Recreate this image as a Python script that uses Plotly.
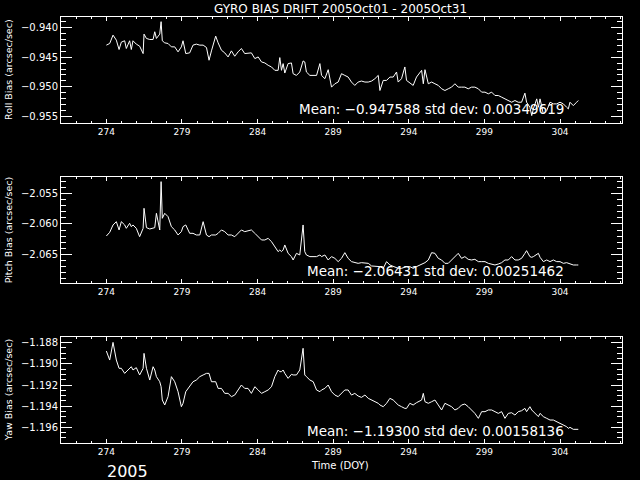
import plotly.graph_objects as go

# ---------------- data ----------------
doy = [
    274.00, 274.22, 274.44, 274.66, 274.84, 274.99, 275.21, 275.32, 275.54, 275.65,
    275.76, 275.98, 276.20, 276.43, 276.49, 276.65, 276.87, 277.09, 277.20, 277.31,
    277.53, 277.62, 277.70, 277.86, 278.08, 278.30, 278.52, 278.74, 278.96, 279.07,
    279.25, 279.51, 279.73, 279.95, 280.18, 280.40, 280.62, 280.79, 280.95, 281.23,
    281.39, 281.61, 281.83, 282.05, 282.27, 282.49, 282.71, 282.93, 283.15, 283.37,
    283.59, 283.82, 284.04, 284.26, 284.48, 284.70, 284.92, 285.14, 285.36, 285.47,
    285.58, 285.69, 285.80, 286.02, 286.24, 286.35, 286.57, 286.79, 287.01, 287.12,
    287.23, 287.46, 287.68, 287.90, 288.12, 288.23, 288.45, 288.67, 288.89, 289.11,
    289.33, 289.55, 289.77, 289.99, 290.21, 290.43, 290.65, 290.87, 291.10, 291.32,
    291.54, 291.76, 291.98, 292.09, 292.31, 292.53, 292.75, 292.97, 293.19, 293.30,
    293.52, 293.74, 293.85, 294.07, 294.29, 294.51, 294.85, 294.96, 295.07, 295.29,
    295.51, 295.73, 295.95, 296.17, 296.39, 296.61, 296.83, 297.05, 297.27, 297.49,
    297.71, 297.93, 298.15, 298.37, 298.60, 298.82, 299.04, 299.26, 299.48, 299.70,
    299.92, 300.14, 300.36, 300.58, 300.80, 301.02, 301.24, 301.46, 301.68, 301.79,
    302.01, 302.13, 302.24, 302.46, 302.57, 302.68, 302.90, 303.12, 303.34, 303.56,
    303.78, 304.00, 304.22, 304.44, 304.55, 304.66, 304.88, 305.10, 305.21,
]

roll_bias = [
    -0.94295, -0.94267, -0.94125, -0.94210, -0.94369, -0.94244, -0.94221, -0.94352, -0.94221, -0.94369,
    -0.94221, -0.94278, -0.94312, -0.94438, -0.94108, -0.94182, -0.94199, -0.94199, -0.94068, -0.94182,
    -0.94108, -0.93897, -0.94221, -0.94256, -0.94267, -0.94324, -0.94324, -0.94409, -0.94324, -0.94221,
    -0.94438, -0.94426, -0.94295, -0.94278, -0.94295, -0.94295, -0.94335, -0.94551, -0.94392, -0.94142,
    -0.94256, -0.94381, -0.94426, -0.94495, -0.94392, -0.94483, -0.94409, -0.94352, -0.94438, -0.94438,
    -0.94426, -0.94523, -0.94495, -0.94580, -0.94597, -0.94637, -0.94665, -0.94722, -0.94722, -0.94506,
    -0.94722, -0.94608, -0.94768, -0.94608, -0.94597, -0.94779, -0.94808, -0.94751, -0.94563, -0.94580,
    -0.94751, -0.94808, -0.94808, -0.94808, -0.94608, -0.94808, -0.94864, -0.94711, -0.95007, -0.94950,
    -0.94921, -0.94779, -0.94808, -0.94836, -0.94921, -0.94978, -0.94921, -0.94904, -0.94921, -0.94921,
    -0.94904, -0.94864, -0.94808, -0.95064, -0.94893, -0.94893, -0.94836, -0.94836, -0.94751, -0.94921,
    -0.94864, -0.94665, -0.94893, -0.94938, -0.94978, -0.94836, -0.94722, -0.94950, -0.94711, -0.94950,
    -0.94921, -0.94950, -0.94978, -0.95035, -0.95064, -0.95035, -0.95007, -0.94950, -0.95007, -0.95007,
    -0.95007, -0.95035, -0.95007, -0.95007, -0.95035, -0.95092, -0.95092, -0.95120, -0.95092, -0.95149,
    -0.95149, -0.95177, -0.95206, -0.95234, -0.95263, -0.95234, -0.95263, -0.95263, -0.95109, -0.95263,
    -0.95348, -0.95490, -0.95376, -0.95206, -0.95348, -0.95206, -0.95462, -0.95405, -0.95263, -0.95291,
    -0.95291, -0.95263, -0.95291, -0.95348, -0.95376, -0.95263, -0.95320, -0.95263, -0.95234,
]

pitch_bias = [
    -2.06197, -2.06137, -2.06016, -2.05962, -2.06098, -2.05962, -2.06016, -2.06071, -2.05989, -2.06044,
    -2.06016, -2.06071, -2.06208, -2.06071, -2.05743, -2.06060, -2.06082, -2.06071, -2.06060, -2.05825,
    -2.06098, -2.05306, -2.05907, -2.05825, -2.05880, -2.06044, -2.06098, -2.06180, -2.06126, -2.06044,
    -2.06016, -2.06153, -2.06153, -2.06180, -2.06180, -2.05962, -2.06180, -2.06208, -2.06180, -2.06180,
    -2.06153, -2.06098, -2.06126, -2.06180, -2.06180, -2.06208, -2.06153, -2.06098, -2.06126, -2.06115,
    -2.06098, -2.06153, -2.06208, -2.06262, -2.06262, -2.06235, -2.06290, -2.06372, -2.06453, -2.06426,
    -2.06453, -2.06426, -2.06344, -2.06481, -2.06535, -2.06590, -2.06481, -2.06508, -2.06016, -2.06453,
    -2.06508, -2.06535, -2.06535, -2.06535, -2.06508, -2.06535, -2.06508, -2.06590, -2.06535, -2.06563,
    -2.06617, -2.06563, -2.06470, -2.06563, -2.06617, -2.06634, -2.06645, -2.06634, -2.06645, -2.06645,
    -2.06688, -2.06688, -2.06688, -2.06699, -2.06727, -2.06617, -2.06672, -2.06699, -2.06727, -2.06727,
    -2.06727, -2.06710, -2.06699, -2.06699, -2.06727, -2.06699, -2.06656, -2.06645, -2.06634, -2.06590,
    -2.06470, -2.06481, -2.06563, -2.06590, -2.06645, -2.06645, -2.06590, -2.06535, -2.06481, -2.06563,
    -2.06535, -2.06579, -2.06590, -2.06579, -2.06617, -2.06617, -2.06617, -2.06645, -2.06656, -2.06672,
    -2.06656, -2.06634, -2.06590, -2.06590, -2.06535, -2.06590, -2.06590, -2.06563, -2.06481, -2.06437,
    -2.06535, -2.06546, -2.06535, -2.06508, -2.06481, -2.06546, -2.06617, -2.06590, -2.06617, -2.06590,
    -2.06617, -2.06617, -2.06645, -2.06634, -2.06645, -2.06656, -2.06672, -2.06672, -2.06672,
]

yaw_bias = [
    -1.18879, -1.18964, -1.18797, -1.18964, -1.19042, -1.19042, -1.19090, -1.19074, -1.19042, -1.19027,
    -1.19058, -1.19036, -1.19105, -1.19042, -1.18901, -1.19042, -1.19153, -1.19027, -1.19058, -1.19121,
    -1.19169, -1.19216, -1.19342, -1.19389, -1.19310, -1.19121, -1.19169, -1.19263, -1.19405, -1.19373,
    -1.19263, -1.19216, -1.19169, -1.19153, -1.19121, -1.19105, -1.19090, -1.19090, -1.19169, -1.19169,
    -1.19232, -1.19232, -1.19279, -1.19279, -1.19310, -1.19295, -1.19247, -1.19200, -1.19232, -1.19232,
    -1.19279, -1.19216, -1.19247, -1.19279, -1.19263, -1.19247, -1.19216, -1.19121, -1.19058, -1.19074,
    -1.19074, -1.19058, -1.19090, -1.19137, -1.19099, -1.19105, -1.19105, -1.19058, -1.18853, -1.19105,
    -1.19121, -1.19153, -1.19169, -1.19247, -1.19263, -1.19247, -1.19232, -1.19200, -1.19263, -1.19295,
    -1.19310, -1.19279, -1.19247, -1.19247, -1.19295, -1.19279, -1.19304, -1.19317, -1.19295, -1.19326,
    -1.19342, -1.19358, -1.19373, -1.19389, -1.19405, -1.19373, -1.19326, -1.19342, -1.19373, -1.19389,
    -1.19405, -1.19421, -1.19421, -1.19373, -1.19389, -1.19367, -1.19342, -1.19279, -1.19358, -1.19373,
    -1.19358, -1.19342, -1.19389, -1.19436, -1.19373, -1.19389, -1.19405, -1.19436, -1.19421, -1.19389,
    -1.19380, -1.19405, -1.19436, -1.19468, -1.19515, -1.19452, -1.19452, -1.19436, -1.19436, -1.19452,
    -1.19468, -1.19452, -1.19515, -1.19468, -1.19462, -1.19484, -1.19452, -1.19443, -1.19421, -1.19452,
    -1.19405, -1.19436, -1.19452, -1.19484, -1.19499, -1.19468, -1.19499, -1.19515, -1.19531, -1.19531,
    -1.19547, -1.19563, -1.19578, -1.19594, -1.19610, -1.19600, -1.19619, -1.19619, -1.19619,
]

x_tick_values = [274, 279, 284, 289, 294, 299, 304]
title_text = "GYRO BIAS DRIFT 2005Oct01 - 2005Oct31"
panel_labels = ["Roll Bias (arcsec/sec)", "Pitch Bias (arcsec/sec)", "Yaw Bias (arcsec/sec)"]
stats_labels = [
    "Mean: \u22120.947588 std dev: 0.00349619",
    "Mean: \u22122.06431 std dev: 0.00251462",
    "Mean: \u22121.19300 std dev: 0.00158136",
]
x_title = "Time (DOY)"
year_label = "2005"

# ---------------- layout helpers (pixel -> paper) ----------------
W, H = 640, 480
def px(x):
    return x / W
def py(y):
    return 1 - y / H

FONT = "DejaVu Sans"
x_dom = [px(61), px(622)]
panel_px = [(17.3, 122.7), (177.3, 283.3), (337.3, 443.3)]
y_ranges = [(-0.9561, -0.93823), (-2.06972, -2.05235), (-1.19751, -1.18749)]
y_tick0 = [-0.955, -2.065, -1.196]
y_dtick = [0.005, 0.005, 0.002]
y_minor = [0.001, 0.001, 0.0005]
series = [roll_bias, pitch_bias, yaw_bias]

fig = go.Figure()
layout = dict(
    width=W, height=H,
    paper_bgcolor="black", plot_bgcolor="black",
    margin=dict(l=0, r=0, t=0, b=0),
    showlegend=False,
    font=dict(family=FONT, color="white"),
)

annotations = []
for i in range(3):
    sfx = "" if i == 0 else str(i + 1)
    fig.add_trace(go.Scatter(
        x=doy, y=series[i], mode="lines",
        line=dict(color="white", width=1),
        xaxis="x" + sfx, yaxis="y" + sfx, hoverinfo="skip",
    ))
    top, bot = panel_px[i]
    layout["xaxis" + sfx] = dict(
        domain=x_dom, anchor="y" + sfx, range=[271.0, 308.1],
        showline=True, linecolor="white", linewidth=1, mirror="ticks",
        ticks="inside", ticklen=4, tickcolor="white", tickwidth=1,
        tickmode="array", tickvals=x_tick_values,
        tickfont=dict(family=FONT, size=9, color="white"),
        showgrid=False, zeroline=False,
        minor=dict(ticks="inside", ticklen=2, tickcolor="white", dtick=1, tick0=274, showgrid=False),
    )
    layout["yaxis" + sfx] = dict(
        domain=[py(bot), py(top)], anchor="x" + sfx, range=list(y_ranges[i]),
        showline=True, linecolor="white", linewidth=1, mirror="ticks",
        ticks="inside", ticklen=11, tickcolor="white", tickwidth=1,
        tickmode="linear", tick0=y_tick0[i], dtick=y_dtick[i], tickformat=".3f",
        tickfont=dict(family=FONT, size=10, color="white"),
        showgrid=False, zeroline=False,
        minor=dict(ticks="inside", ticklen=5, tickcolor="white", dtick=y_minor[i], tick0=y_tick0[i], showgrid=False),
    )
    annotations.append(dict(
        text=panel_labels[i], x=px(8), y=py((top + bot) / 2), xref="paper", yref="paper",
        textangle=-90, showarrow=False, xanchor="center", yanchor="middle",
        font=dict(family=FONT, size=9.5, color="white"),
    ))

stat_y = [109, 271, 431]
for i in range(3):
    annotations.append(dict(
        text=stats_labels[i], x=px(566), y=py(stat_y[i]), xref="paper", yref="paper",
        showarrow=False, xanchor="right", yanchor="middle",
        font=dict(family=FONT, size=13.5, color="white"),
    ))

annotations.append(dict(text=title_text, x=px(340), y=py(0), xref="paper", yref="paper",
                        showarrow=False, xanchor="center", yanchor="top",
                        font=dict(family=FONT, size=12, color="white")))
annotations.append(dict(text=x_title, x=px(340), y=py(465), xref="paper", yref="paper",
                        showarrow=False, xanchor="center", yanchor="middle",
                        font=dict(family=FONT, size=10, color="white")))
annotations.append(dict(text=year_label, x=px(127), y=py(483), xref="paper", yref="paper",
                        showarrow=False, xanchor="center", yanchor="bottom",
                        font=dict(family=FONT, size=16, color="white")))

layout["annotations"] = annotations
fig.update_layout(**layout)
fig.write_html(
    "out.html",
    config={"displayModeBar": False, "staticPlot": True},
    post_script="document.body.style.margin='0';document.body.style.background='black';",
)
